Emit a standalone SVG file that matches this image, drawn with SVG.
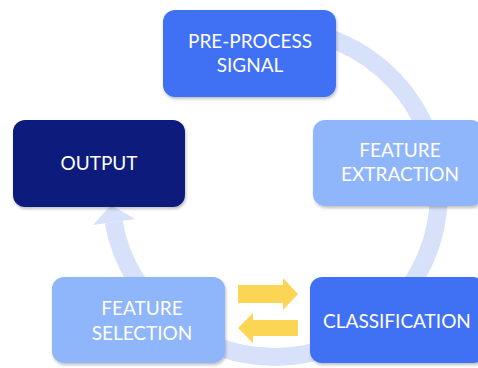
<svg xmlns="http://www.w3.org/2000/svg" width="478" height="368" viewBox="0 0 478 368">
  <defs>
    <filter id="sh" x="-10%" y="-10%" width="120%" height="130%">
      <feDropShadow dx="1" dy="2" stdDeviation="1.5" flood-color="#000" flood-opacity="0.25"/>
    </filter>
  </defs>
  <style>
    .box { filter: url(#sh); }
    .dark { fill: #0c1f7c; }
    .mid { fill: #3f6ff4; }
    .light { fill: #8fb5fa; }
    .lbl { font-family: Lato, "Open Sans", sans-serif; font-size: 19px; fill: #ffffff; text-anchor: middle; }
    .ring { fill: none; stroke: #d7e1fa; stroke-width: 18; }
    .ringhead { fill: #d7e1fa; }
    .yarrow { fill: #fdd555; }
  </style>
  <rect width="478" height="368" fill="#ffffff"/>
  <g id="connectors">
    <path class="ring" d="M246.5,31.5 A164,164 0 1 1 113.6,222"/>
    <polygon class="ringhead" points="135,219 93,225 111,205"/>
    <polygon class="yarrow" points="238,285 283,285 283,278 298,294 283,310 283,303 238,303"/>
    <polygon class="yarrow" points="298,320 253,320 253,313 238,328 253,343 253,336 298,336"/>
  </g>
  <g id="preprocess">
    <rect class="box mid" x="163" y="10" width="173" height="87" rx="12"/>
    <text class="lbl" x="250" y="48">PRE-PROCESS</text>
    <text class="lbl" x="250" y="72">SIGNAL</text>
  </g>
  <g id="extraction">
    <rect class="box light" x="313" y="120" width="170" height="86" rx="12"/>
    <text class="lbl" x="400" y="157">FEATURE</text>
    <text class="lbl" x="400" y="181">EXTRACTION</text>
  </g>
  <g id="output">
    <rect class="box dark" x="13" y="120" width="172" height="87" rx="12"/>
    <text class="lbl" x="99" y="170">OUTPUT</text>
  </g>
  <g id="selection">
    <rect class="box light" x="52" y="277" width="173" height="86" rx="12"/>
    <text class="lbl" x="142" y="315">FEATURE</text>
    <text class="lbl" x="142" y="340">SELECTION</text>
  </g>
  <g id="classification">
    <rect class="box mid" x="310" y="277" width="175" height="86" rx="12"/>
    <text class="lbl" x="397" y="328">CLASSIFICATION</text>
  </g>
</svg>
